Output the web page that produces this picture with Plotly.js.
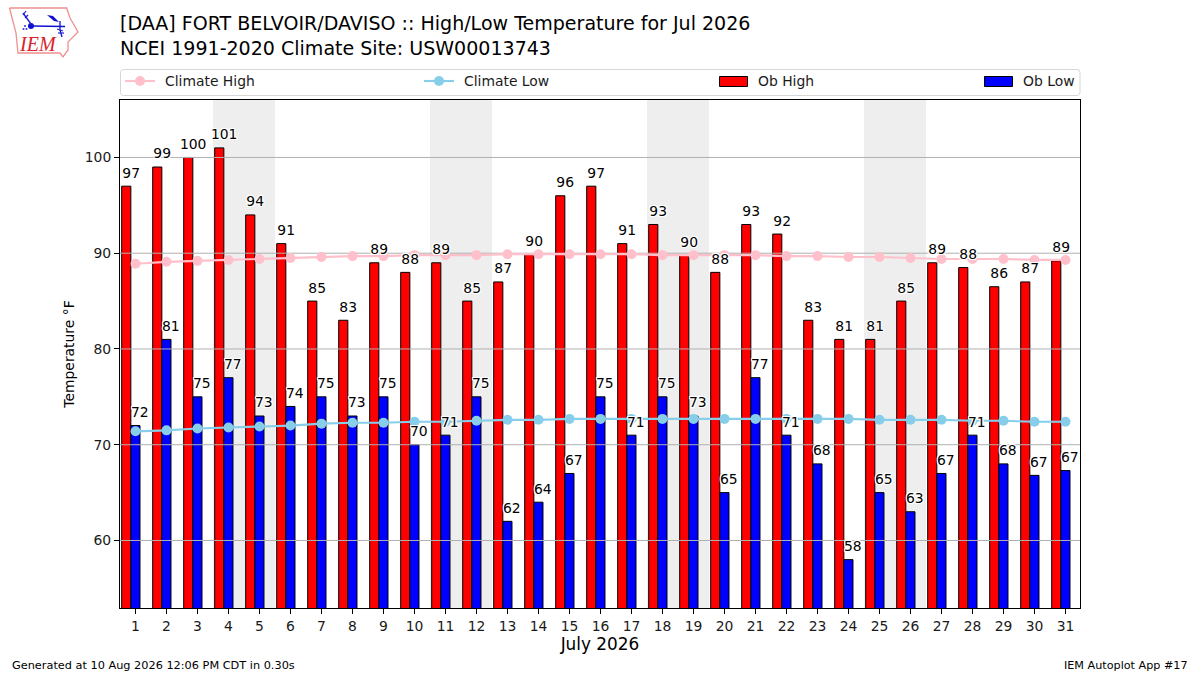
<!DOCTYPE html>
<html><head><meta charset="utf-8">
<script src="https://cdn.plot.ly/plotly-3.0.1.min.js"></script>
<style>html,body{margin:0;padding:0;background:#fff}#c{width:1200px;height:675px}</style>
</head><body><div id="c"></div>
<script>
const days=[1,2,3,4,5,6,7,8,9,10,11,12,13,14,15,16,17,18,19,20,21,22,23,24,25,26,27,28,29,30,31];
const obHigh=[97,99,100,101,94,91,85,83,89,88,89,85,87,89.9,96,97,91,93,89.8,88,93,92,83,81,81,85,89,88.5,86.5,87,89.2];
const obHighLabels=[97,99,100,101,94,91,85,83,89,88,89,85,87,90,96,97,91,93,90,88,93,92,83,81,81,85,89,88,86,87,89];
const obLow=[72,81,75,77,73,74,75,73,75,70,71,75,62,64,67,75,71,75,73,65,77,71,68,58,65,63,67,71,68,66.8,67.3];
const obLowLabels=[72,81,75,77,73,74,75,73,75,70,71,75,62,64,67,75,71,75,73,65,77,71,68,58,65,63,67,71,68,67,67];
const climHigh=[88.9,89.1,89.2,89.3,89.4,89.5,89.6,89.7,89.7,89.8,89.8,89.8,89.9,89.9,89.9,89.9,89.9,89.8,89.8,89.8,89.8,89.7,89.7,89.6,89.6,89.5,89.4,89.4,89.4,89.3,89.3];
const climLow=[71.4,71.5,71.7,71.8,71.9,72.0,72.2,72.3,72.3,72.4,72.4,72.5,72.6,72.6,72.7,72.7,72.7,72.7,72.7,72.7,72.7,72.7,72.7,72.7,72.6,72.6,72.6,72.5,72.5,72.4,72.4];
const weekendStarts=[3.5,10.5,17.5,24.5];
const gridValues=[60,70,80,90,100];
const titleText="[DAA] FORT BELVOIR/DAVISO :: High/Low Temperature for Jul 2026<br>NCEI 1991-2020 Climate Site: USW00013743";

const FONT="DejaVu Sans, sans-serif";
const halo="1px 0 0 #fff,-1px 0 0 #fff,0 1px 0 #fff,0 -1px 0 #fff,1px 1px 0 #fff,-1px -1px 0 #fff,1px -1px 0 #fff,-1px 1px 0 #fff";
// pixel helpers for page furniture (logo, legend box)
const L=120,R=1080,T=100,B=608;
const px=x=>(x-L)/(R-L), py=y=>1-(y-T)/(B-T);
const path=pts=>pts.map((p,i)=>(i?'L':'M')+px(p[0])+','+py(p[1])).join(' ');

const gridX=[],gridY=[];
gridValues.forEach(v=>{gridX.push(0,33,null);gridY.push(v,v,null);});

const labelMarker={size:6.5,opacity:0};
const traces=[
 {type:'bar',name:'Ob High',x:days,y:obHigh,width:0.295,offset:-0.445,marker:{color:'#ff0000',line:{color:'#000',width:1}},showlegend:false,hoverinfo:'x+y'},
 {type:'bar',name:'Ob Low',x:days,y:obLow,width:0.295,offset:-0.15,marker:{color:'#0000ff',line:{color:'#000',width:1}},showlegend:false,hoverinfo:'x+y'},
 {type:'scatter',mode:'lines',x:gridX,y:gridY,line:{color:'#b0b0b0',width:1},showlegend:false,hoverinfo:'skip'},
 {type:'scatter',mode:'lines+markers',name:'Climate High',x:days,y:climHigh,line:{color:'#ffc0cb',width:2.1},marker:{color:'#ffc0cb',size:10},showlegend:false},
 {type:'scatter',mode:'lines+markers',name:'Climate Low',x:days,y:climLow,line:{color:'#87ceeb',width:2.1},marker:{color:'#87ceeb',size:10},showlegend:false},
 {type:'scatter',mode:'text+markers',marker:labelMarker,x:days.map(d=>d-0.14),y:obHigh,text:obHighLabels.map(String),textposition:'top center',
  textfont:{family:FONT,size:13.9,color:'#000',shadow:halo},showlegend:false,hoverinfo:'skip'},
 {type:'scatter',mode:'text+markers',marker:labelMarker,x:days.map(d=>d+0.14),y:obLow,text:obLowLabels.map(String),textposition:'top center',
  textfont:{family:FONT,size:13.9,color:'#000',shadow:halo},showlegend:false,hoverinfo:'skip'}
];

const shapes=weekendStarts.map(s=>({type:'rect',xref:'x',yref:'paper',x0:s,x1:s+2,y0:0,y1:1,layer:'below',fillcolor:'#eeeeee',line:{width:0}}));
const line=(pts,c,w)=>({type:'path',xref:'paper',yref:'paper',layer:'above',path:path(pts),line:{color:c,width:w}});
const poly=(pts,c)=>({type:'path',xref:'paper',yref:'paper',layer:'above',path:path(pts)+' Z',line:{width:0},fillcolor:c});
const rectpx=(x0,y0,x1,y1,fill,lc,lw)=>({type:'rect',xref:'paper',yref:'paper',layer:'above',x0:px(x0),x1:px(x1),y0:py(y0),y1:py(y1),fillcolor:fill,line:{color:lc,width:lw}});
const circ=(cx,cy,r,c)=>({type:'circle',xref:'paper',yref:'paper',layer:'above',x0:px(cx-r),x1:px(cx+r),y0:py(cy-r),y1:py(cy+r),fillcolor:c,line:{width:0}});

// legend box (rounded)
const bx0=120.5,bx1=1080,by0=69.5,by1=95.5,r=3;
shapes.push({type:'path',xref:'paper',yref:'paper',layer:'above',line:{color:'#d6d6d6',width:1},fillcolor:'#fff',
 path:`M${px(bx0+r)},${py(by0)} L${px(bx1-r)},${py(by0)} Q${px(bx1)},${py(by0)} ${px(bx1)},${py(by0+r)} L${px(bx1)},${py(by1-r)} Q${px(bx1)},${py(by1)} ${px(bx1-r)},${py(by1)} L${px(bx0+r)},${py(by1)} Q${px(bx0)},${py(by1)} ${px(bx0)},${py(by1-r)} L${px(bx0)},${py(by0+r)} Q${px(bx0)},${py(by0)} ${px(bx0+r)},${py(by0)} Z`});
shapes.push(line([[125,81],[155,81]],'#ffc0cb',2.1),circ(140,81,5,'#ffc0cb'));
shapes.push(line([[424,81],[454,81]],'#87ceeb',2.1),circ(439,81,5,'#87ceeb'));
shapes.push(rectpx(719.5,76.5,747.5,86.5,'#ff0000','#000',1),rectpx(984.5,76.5,1012.5,86.5,'#0000ff','#000',1));

// IEM logo
shapes.push(line([[9.5,8],[66.7,8],[70,18],[78,32],[68,42],[68,50],[63,57],[60,53],[18,53],[16,33],[9.5,8]],'#ee9090',1.3));
shapes.push(line([[31,26],[65,26.5]],'#1010d0',1.6),circ(31,26,3,'#1010d0'));
shapes.push(line([[31,24],[23,13]],'#2020e0',1.4),line([[23,15],[26,11]],'#2020e0',1.2),line([[25,18],[28,15]],'#2020e0',1.2));
shapes.push(poly([[47,15],[53,16],[59,22],[54,21]],'#1010d0'));
shapes.push(line([[60,21],[60,30],[62,37]],'#1010d0',1.3),line([[57,29],[63,31]],'#2020e0',1.2),line([[58,33],[64,33]],'#2020e0',1.2));
shapes.push(circ(23.5,29,1,'#3030e0'),circ(26.5,29,1,'#3030e0'),circ(25,26,1,'#3030e0'));

const legendLabels=[['Climate High',164],['Climate Low',463],['Ob High',757],['Ob Low',1022]];
const ann=legendLabels.map(([t,x])=>({text:t,xref:'paper',yref:'paper',x:px(x),y:py(81),xanchor:'left',yanchor:'middle',showarrow:false,font:{family:FONT,size:13.9,color:'#1a1a1a'},borderpad:0}));
ann.push({text:'Generated at 10 Aug 2026 12:06 PM CDT in 0.30s',xref:'paper',yref:'paper',x:px(11),y:py(665),xanchor:'left',yanchor:'middle',showarrow:false,font:{family:FONT,size:11.3,color:'#000'},borderpad:0});
ann.push({text:'IEM Autoplot App #17',xref:'paper',yref:'paper',x:px(1189),y:py(665),xanchor:'right',yanchor:'middle',showarrow:false,font:{family:FONT,size:11.2,color:'#000'},borderpad:0});
ann.push({text:'<i>IEM</i>',xref:'paper',yref:'paper',x:px(37.5),y:py(44.5),xanchor:'center',yanchor:'middle',showarrow:false,font:{family:'Liberation Serif, serif',size:20,color:'#d8232a'},borderpad:0});

const layout={
 width:1200,height:675,paper_bgcolor:'#fff',plot_bgcolor:'#fff',
 margin:{l:L,r:1200-R,t:T,b:675-B,pad:0},
 barmode:'overlay',showlegend:false,hovermode:'closest',
 title:{text:titleText,x:120/1200,xanchor:'left',y:1-30.4/675,yanchor:'middle',font:{family:FONT,size:19.05,color:'#000'}},
 xaxis:{range:[0.5,31.468],tickmode:'array',tickvals:days,ticktext:days.map(String),ticks:'outside',ticklen:5,tickcolor:'#000',tickwidth:1,
  showline:true,linecolor:'#000',linewidth:1,mirror:true,showgrid:false,zeroline:false,tickfont:{family:FONT,size:13.9,color:'#1a1a1a'},
  title:{text:'July 2026',font:{family:FONT,size:16.9,color:'#000'},standoff:4}},
 yaxis:{range:[52.95,106],tickmode:'array',tickvals:gridValues,ticktext:gridValues.map(String),ticks:'outside',ticklen:5,tickcolor:'#000',tickwidth:1,
  showline:true,linecolor:'#000',linewidth:1,mirror:true,showgrid:false,zeroline:false,tickfont:{family:FONT,size:13.9,color:'#1a1a1a'},
  title:{text:'Temperature °F',font:{family:FONT,size:13.9,color:'#000'},standoff:6}},
 shapes:shapes,annotations:ann
};
Plotly.newPlot('c',traces,layout,{displayModeBar:false,responsive:false});
</script></body></html>
